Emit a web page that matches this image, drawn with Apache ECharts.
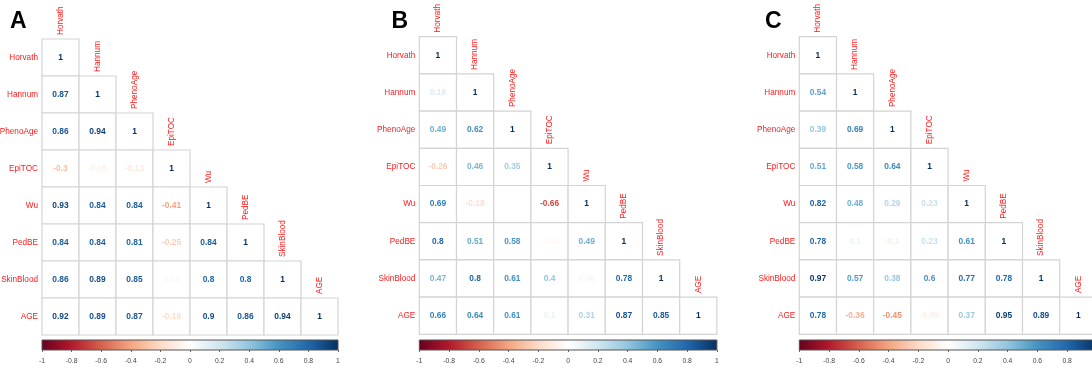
<!DOCTYPE html>
<html>
<head>
<meta charset="utf-8">
<script src="https://cdn.jsdelivr.net/npm/echarts@6/dist/echarts.min.js"></script>
<style>
  html, body { margin: 0; padding: 0; background: #fff; }
  #chart { width: 1092px; height: 370px; }
</style>
</head>
<body>
<div id="chart"></div>
<script>
const names = ["Horvath", "Hannum", "PhenoAge", "EpiTOC", "Wu", "PedBE", "SkinBlood", "AGE"];

// lower triangles, row by row
const corrA = [
  [1],
  [0.87, 1],
  [0.86, 0.94, 1],
  [-0.3, -0.08, -0.13, 1],
  [0.93, 0.84, 0.84, -0.41, 1],
  [0.84, 0.84, 0.81, -0.25, 0.84, 1],
  [0.86, 0.89, 0.85, 0.04, 0.8, 0.8, 1],
  [0.92, 0.89, 0.87, -0.19, 0.9, 0.86, 0.94, 1]
];
const corrB = [
  [1],
  [0.16, 1],
  [0.49, 0.62, 1],
  [-0.26, 0.46, 0.35, 1],
  [0.69, -0.18, 0, -0.66, 1],
  [0.8, 0.51, 0.58, -0.04, 0.49, 1],
  [0.47, 0.8, 0.61, 0.4, 0.06, 0.78, 1],
  [0.66, 0.64, 0.61, 0.1, 0.31, 0.87, 0.85, 1]
];
const corrC = [
  [1],
  [0.54, 1],
  [0.39, 0.69, 1],
  [0.51, 0.58, 0.64, 1],
  [0.82, 0.48, 0.29, 0.23, 1],
  [0.78, 0.1, -0.1, 0.23, 0.61, 1],
  [0.97, 0.57, 0.38, 0.6, 0.77, 0.78, 1],
  [0.78, -0.36, -0.45, -0.09, 0.37, 0.95, 0.89, 1]
];
const panelLetters = ["A", "B", "C"];
const barRange = [-1, 1];

const rdbu = ["#67001F", "#B2182B", "#D6604D", "#F4A582", "#FDDBC7", "#FFFFFF",
              "#D1E5F0", "#92C5DE", "#4393C3", "#2166AC", "#053061"];

function hex2rgb(h) {
  return [parseInt(h.slice(1, 3), 16), parseInt(h.slice(3, 5), 16), parseInt(h.slice(5, 7), 16)];
}
function colorFor(v) {
  let t = (v + 1) / 2 * (rdbu.length - 1);
  let i = Math.min(Math.floor(t), rdbu.length - 2);
  let f = t - i;
  const a = hex2rgb(rdbu[i]), b = hex2rgb(rdbu[i + 1]);
  const c = a.map((x, k) => Math.round(x + (b[k] - x) * f));
  return "rgb(" + c.join(",") + ")";
}

const FONT = "Liberation Sans";
const layout = [
  { left: 42, top: 39, cell: 37 },
  { left: 419.3, top: 36.7, cell: 37.2 },
  { left: 799.3, top: 36.7, cell: 37.2 }
];
const mats = [corrA, corrB, corrC];

const grids = [], xAxes = [], yAxes = [], series = [], titles = [];
const titleLeft = [10, 391.5, 765];

mats.forEach((m, k) => {
  const L = layout[k];
  const n = names.length;
  const gi = grids.length;
  grids.push({ left: L.left, top: L.top, width: L.cell * n, height: L.cell * n, outerBoundsMode: "none", containLabel: false });
  xAxes.push({ gridIndex: gi, type: "category", data: names, show: false });
  yAxes.push({
    gridIndex: gi, type: "category", data: names, inverse: true,
    axisLine: { show: false }, axisTick: { show: false },
    axisLabel: { color: "#ff1a1a", fontSize: 8.2, fontFamily: FONT, margin: 4 }
  });

  const cells = [];
  m.forEach((row, i) => row.forEach((v, j) => cells.push([j, i, v])));

  series.push({
    type: "custom", xAxisIndex: gi, yAxisIndex: gi,
    encode: { x: 0, y: 1 },
    data: cells,
    renderItem: function (params, api) {
      const p = api.coord([api.value(0), api.value(1)]);
      const s = api.size([1, 1]);
      const v = api.value(2);
      return {
        type: "group",
        children: [
          {
            type: "rect",
            shape: { x: p[0] - s[0] / 2, y: p[1] - s[1] / 2, width: s[0], height: s[1] },
            style: { fill: "#fff", stroke: "#d4d4d4", lineWidth: 1.2 }
          },
          {
            type: "text", x: p[0], y: p[1],
            style: {
              text: String(v), fill: colorFor(v),
              font: "bold 8.4px '" + FONT + "'",
              textAlign: "center", textVerticalAlign: "middle"
            }
          }
        ]
      };
    }
  });

  // column labels above the diagonal
  series.push({
    type: "custom", xAxisIndex: gi, yAxisIndex: gi,
    encode: { x: 0, y: 0 },
    data: names.map((nm, j) => [j]),
    renderItem: function (params, api) {
      const j = api.value(0);
      const p = api.coord([j, j]);
      const s = api.size([1, 1]);
      return {
        type: "text", x: p[0], y: p[1] - s[1] / 2 - 4, rotation: Math.PI / 2,
        style: {
          text: names[j], fill: "#ff1a1a",
          font: "8.2px '" + FONT + "'",
          textAlign: "left", textVerticalAlign: "middle"
        }
      };
    }
  });

  // colour bar
  const bi = grids.length;
  grids.push({ left: L.left, top: 340, width: L.cell * n, height: 10, outerBoundsMode: "none", containLabel: false });
  xAxes.push({
    gridIndex: bi, type: "value", min: barRange[0], max: barRange[1], interval: 0.2,
    position: "bottom",
    axisLine: { show: false },
    splitLine: { show: false },
    axisTick: { show: true, length: 2, lineStyle: { color: "#666" } },
    axisLabel: { color: "#444", fontSize: 6.8, fontFamily: FONT, margin: 8 }
  });
  yAxes.push({ gridIndex: bi, type: "value", min: 0, max: 1, show: false });
  series.push({
    type: "custom", xAxisIndex: bi, yAxisIndex: bi,
    encode: { x: [0, 1] },
    data: [[barRange[0], barRange[1]]],
    renderItem: function (params, api) {
      const p0 = api.coord([api.value(0), 0]);
      const p1 = api.coord([api.value(1), 1]);
      return {
        type: "rect",
        shape: { x: p0[0], y: p1[1], width: p1[0] - p0[0], height: p0[1] - p1[1] },
        style: {
          fill: new echarts.graphic.LinearGradient(0, 0, 1, 0,
            rdbu.map((c, q) => ({ offset: q / (rdbu.length - 1), color: c }))),
          stroke: "#555", lineWidth: 1
        }
      };
    }
  });

  titles.push({
    text: panelLetters[k], left: titleLeft[k], top: 10, padding: 0,
    textStyle: { fontSize: 23, fontWeight: "bold", color: "#000", fontFamily: FONT }
  });
});

const chart = echarts.init(document.getElementById("chart"));
chart.setOption({
  animation: false,
  backgroundColor: "#fff",
  title: titles,
  grid: grids,
  xAxis: xAxes,
  yAxis: yAxes,
  series: series
});
</script>
</body>
</html>
